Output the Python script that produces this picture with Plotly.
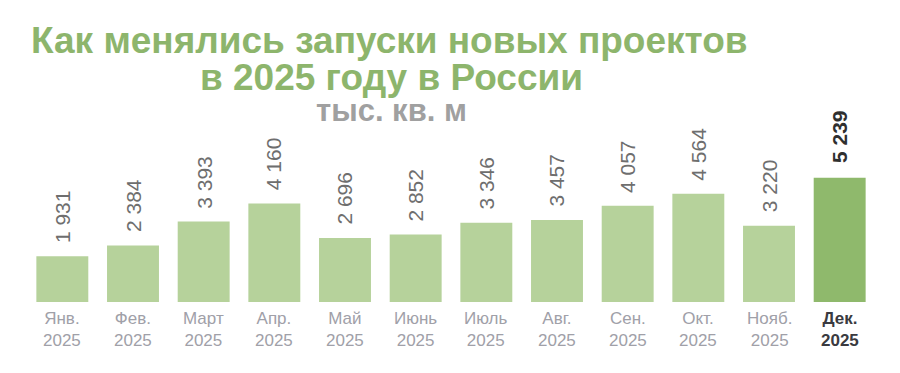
import plotly.graph_objects as go

months = ["Янв.", "Фев.", "Март", "Апр.", "Май", "Июнь", "Июль", "Авг.", "Сен.", "Окт.", "Нояб.", "Дек."]
year = "2025"
values = [1931, 2384, 3393, 4160, 2696, 2852, 3346, 3457, 4057, 4564, 3220, 5239]
value_labels = ["1 931", "2 384", "3 393", "4 160", "2 696", "2 852", "3 346", "3 457", "4 057", "4 564", "3 220", "5 239"]

title_line1 = "Как менялись запуски новых проектов"
title_line2 = "в 2025 году в России"
unit_label = "тыс. кв. м"

LIGHT = "#b6d29b"
DARK = "#8fb96c"
n = len(months)
colors = [LIGHT] * (n - 1) + [DARK]
cats = [f"{m} {year}" for m in months]

# page offset (default body margin of the html page)
OFF = 8
W, H = 900, 373
# desired plot area in page pixels
PL, PR, PT, PB = 27, 875, 130, 302
l, r, t = PL - OFF, W - PR + OFF, PT - OFF
b = H - (PB - OFF)
pw, ph = W - l - r, H - t - b


def px(xp):
    return (xp - OFF - l) / pw


def py(yp):
    return (H - b - (yp - OFF)) / ph


fig = go.Figure()
fig.add_trace(go.Bar(x=cats, y=values, marker=dict(color=colors, line=dict(width=0)),
                     hoverinfo="skip"))

annotations = []
for i, (c, v, lab) in enumerate(zip(cats, values, value_labels)):
    last = i == n - 1
    annotations.append(dict(
        x=c, y=v, xref="x", yref="y", text=f"<b>{lab}</b>" if last else lab,
        textangle=-90, showarrow=False, yanchor="bottom", xanchor="center",
        yshift=13 if last else 11,
        font=dict(family="Liberation Sans, Arial, sans-serif", size=21,
                  color="#2f2f2f" if last else "#6e6e6e")))
    annotations.append(dict(
        x=c, y=0, xref="x", yref="y",
        text=(f"<b>{months[i]}<br>{year}</b>" if last else f"{months[i]}<br>{year}"),
        showarrow=False, yanchor="top", xanchor="center", yshift=-5,
        font=dict(family="Liberation Sans, Arial, sans-serif", size=17,
                  color="#3a3a40" if last else "#a0a0a8")))

TF = "Liberation Sans, Arial, sans-serif"
annotations.append(dict(x=px(389), y=py(40), xref="paper", yref="paper", text=f"<b>{title_line1}</b>",
                        showarrow=False, xanchor="center", yanchor="middle",
                        font=dict(family=TF, size=37, color="#8db56c")))
annotations.append(dict(x=px(391), y=py(78), xref="paper", yref="paper", text=f"<b>{title_line2}</b>",
                        showarrow=False, xanchor="center", yanchor="middle",
                        font=dict(family=TF, size=37, color="#8db56c")))
annotations.append(dict(x=px(391), y=py(110), xref="paper", yref="paper", text=f"<b>{unit_label}</b>",
                        showarrow=False, xanchor="center", yanchor="middle",
                        font=dict(family=TF, size=31, color="#a0a0a0")))

fig.update_layout(
    width=W, height=H,
    margin=dict(l=l, r=r, t=t, b=b),
    paper_bgcolor="white", plot_bgcolor="white",
    bargap=0.265,
    showlegend=False,
    xaxis=dict(showticklabels=False, showgrid=False, zeroline=False, showline=False,
               range=[-0.5, n - 0.5], fixedrange=True),
    yaxis=dict(visible=False, range=[0, 172 / 0.0237], fixedrange=True),
    annotations=annotations,
)

fig.write_html("out.html", config={"displayModeBar": False})
